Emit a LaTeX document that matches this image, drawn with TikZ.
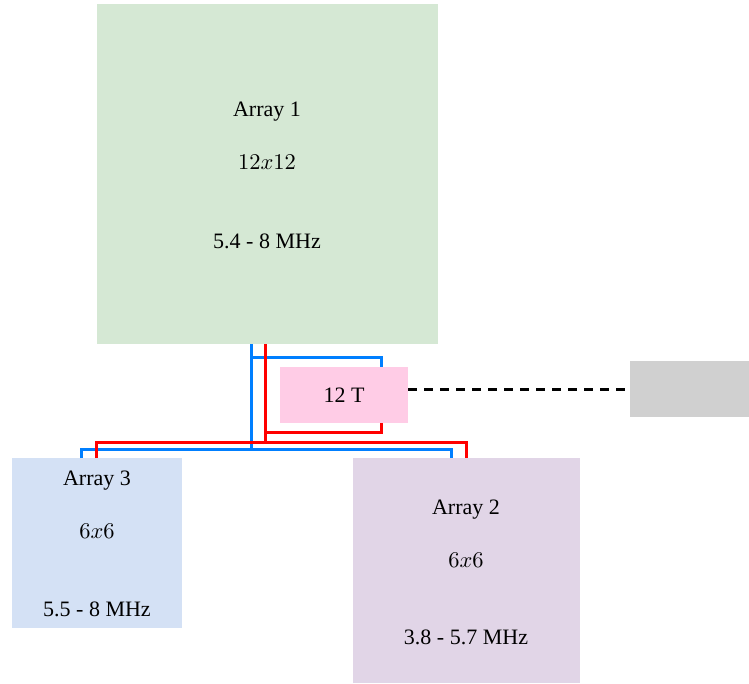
\documentclass[tikz,border=0pt]{standalone}
\usepackage{graphicx}
\usepackage{fontspec}
\setmainfont{Liberation Serif}
\definecolor{cgreen}{HTML}{D5E8D4}
\definecolor{cpink}{HTML}{FFCCE6}
\definecolor{cgray}{HTML}{D0D0D0}
\definecolor{cblue}{HTML}{D4E1F5}
\definecolor{cpurple}{HTML}{E1D5E7}
\definecolor{wblue}{HTML}{007FFF}
\definecolor{wred}{HTML}{FF0000}
\newcommand{\bigmath}[1]{\scalebox{2.25}{\normalsize$#1$}}
\begin{document}
\begin{tikzpicture}[x=1pt,y=-1pt,
  box/.style={draw=none,inner sep=0pt,outer sep=0pt},
  lbl/.style={font=\fontsize{22}{26}\selectfont,inner sep=0pt},
  bw/.style={draw=wblue,line width=3pt},
  rw/.style={draw=wred,line width=3pt}]
\useasboundingbox (0,0) rectangle (749,684);
% boxes
\node[box,fill=cgreen,minimum width=341pt,minimum height=340pt,anchor=north west] (a1) at (97,4) {};
\node[box,fill=cpink,minimum width=128pt,minimum height=56pt,anchor=north west] (t) at (280,367) {};
\node[box,fill=cgray,minimum width=119pt,minimum height=56pt,anchor=north west] (g) at (630,361) {};
\node[box,fill=cblue,minimum width=170pt,minimum height=170pt,anchor=north west] (a3) at (12,458) {};
\node[box,fill=cpurple,minimum width=227pt,minimum height=225pt,anchor=north west] (a2) at (353,458) {};
% texts
\node[lbl] (a1t1) at (267,112) {Array 1};
\node[lbl] (a1t2) at (267,162) {\bigmath{12x12}};
\node[lbl] (a1t3) at (267,241) {5.4 - 8 MHz};
\node[lbl] (tt) at (344,395) {12 T};
\node[lbl] (a3t1) at (97,481) {Array 3};
\node[lbl] (a3t2) at (97,531) {\bigmath{6x6}};
\node[lbl] (a3t3) at (97,609) {5.5 - 8 MHz};
\node[lbl] (a2t1) at (466,510) {Array 2};
\node[lbl] (a2t2) at (466,560) {\bigmath{6x6}};
\node[lbl] (a2t3) at (466,637) {3.8 - 5.7 MHz};
% junction coordinates
\coordinate (bj) at (251,449);
\coordinate (rj) at (265,442);
% blue wires
\draw[bw] (a1.south -| bj) -- (bj);
\draw[bw] (a3.north -| 81,0) |- (bj) -| (a2.north -| 451,0);
\draw[bw] (251,357) -| (t.north -| 381,0);
% red wires
\draw[rw] (a1.south -| rj) -- (rj);
\draw[rw] (a3.north -| 96,0) |- (rj) -| (a2.north -| 466,0);
\draw[rw] (265,432) -| (t.south -| 381,0);
% dashed link
\draw[black,line width=3pt,dash pattern=on 9pt off 7pt] (t.east |- g.west) -- (g.west);
\end{tikzpicture}
\end{document}
